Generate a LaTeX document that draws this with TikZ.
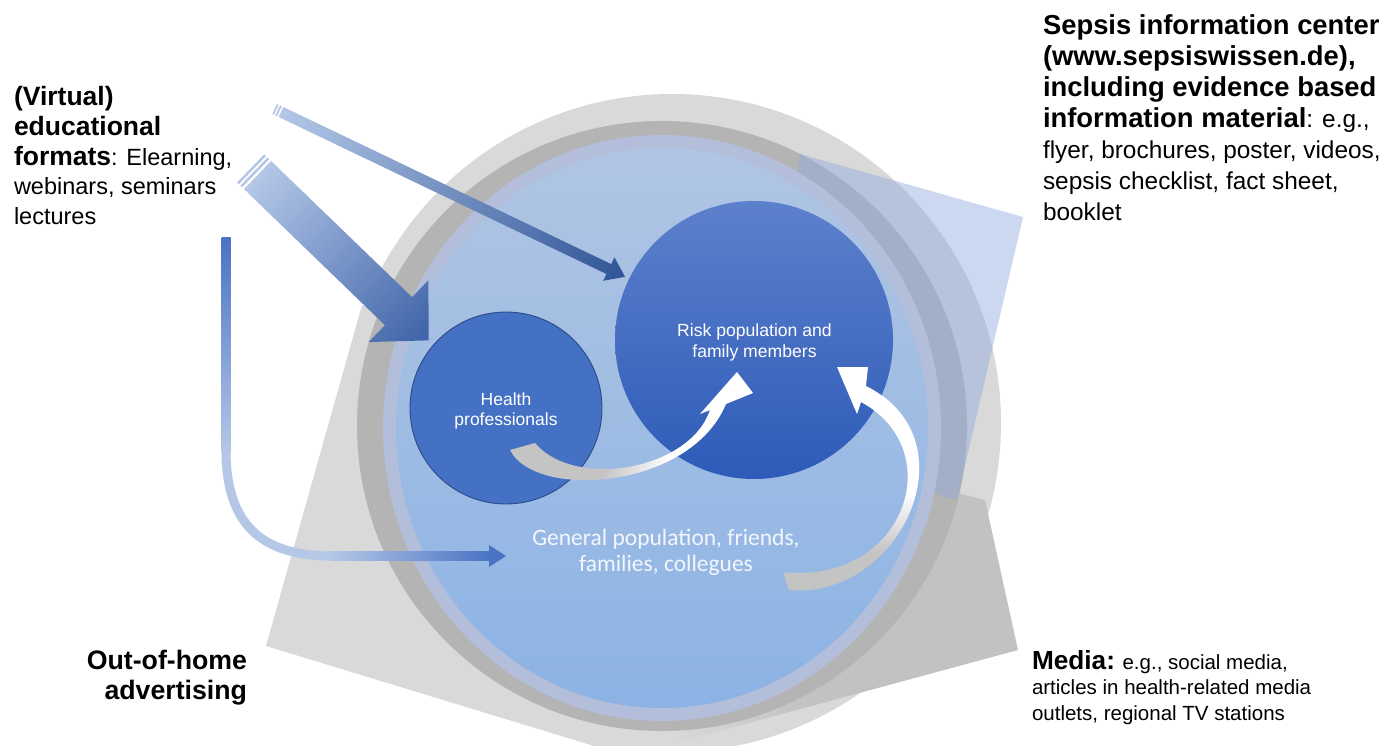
\documentclass[tikz,border=0pt]{standalone}
\usepackage{fontspec}
\setmainfont{Liberation Sans}
\newfontfamily\carlitofont{Carlito}

\definecolor{ringlight}{HTML}{D9D9D9}
\definecolor{ringdark}{HTML}{B4B4B4}
\definecolor{beamgrey}{HTML}{C2C2C2}
\definecolor{beamblue}{HTML}{8FAADC}
\definecolor{haloblue}{HTML}{B3BEDB}
\definecolor{poptop}{HTML}{B0C5E3}
\definecolor{popbottom}{HTML}{8CB3E4}
\definecolor{hpblue}{HTML}{4471C4}
\definecolor{hpline}{HTML}{2C4A86}
\definecolor{risktop}{HTML}{5C80CB}
\definecolor{riskbottom}{HTML}{2E5BB8}
\definecolor{arrowpale}{HTML}{B4C7E7}
\definecolor{arrowdeep}{HTML}{3D62A8}
\definecolor{arrowthin}{HTML}{2F5597}
\definecolor{arrowside}{HTML}{4A73C3}
\definecolor{curvegrey}{HTML}{C4C4C4}
\definecolor{poptext}{HTML}{F3F6FC}

% grey beam: light on the left, darker on the right
\pgfdeclarehorizontalshading{beamshade}{100bp}{color(0bp)=(ringlight); color(52bp)=(ringlight); color(61bp)=(beamgrey); color(100bp)=(beamgrey)}
% curved arrows: grey tail fading into a white head
\pgfdeclarehorizontalshading{curvesideways}{100bp}{color(0bp)=(curvegrey); color(44bp)=(curvegrey); color(58bp)=(white); color(100bp)=(white)}
\pgfdeclareverticalshading{curveupward}{100bp}{color(0bp)=(curvegrey); color(35bp)=(curvegrey); color(48bp)=(white); color(100bp)=(white)}

\begin{document}
\begin{tikzpicture}[x=1pt, y=-1pt,
  txt/.style={inner sep=0pt, outer sep=0pt, text=black},
  intxt/.style={inner sep=0pt, outer sep=0pt, text=white},
  tailstripe/.style={fill=arrowpale}]

\useasboundingbox (0,0) rectangle (1390,746);
\fill[white] (0,0) rectangle (1390,746);

% outer light ring
\fill[ringlight] (672,423) circle [radius=329];
% grey beam from below
\shade[shading=beamshade] (266,646) -- (362,305) -- (700,430) -- (985,500) -- (1018,650) -- (627,756) -- cycle;
% dark ring
\fill[ringdark] (662,426) circle [radius=305];
% translucent blue beam from the upper right
\fill[beamblue, fill opacity=0.45] (800,154) -- (1023,217) -- (957,500) -- (760,440) -- cycle;
% general population disc with its halo
\fill[haloblue] (662,428) ellipse [x radius=279, y radius=293];
\shade[top color=poptop, bottom color=popbottom] (662,428) ellipse [x radius=266, y radius=280];

% target groups
\filldraw[fill=hpblue, draw=hpline, line width=0.9pt] (506,408) circle [radius=96];
\shade[top color=risktop, bottom color=riskbottom] (754,340) circle [radius=139];

\node[intxt, anchor=base] (hp) at (506,405)
  {\parbox[t]{150pt}{\centering\fontsize{17.5}{20}\selectfont Health\\ professionals}};
\node[intxt, anchor=base] (risk) at (754.5,336)
  {\parbox[t]{220pt}{\centering\fontsize{17.6}{21.5}\selectfont Risk population and\\ family members}};
\node[inner sep=0pt, text=poptext, anchor=base] (gen) at (666,545)
  {\parbox[t]{320pt}{\centering\carlitofont\fontsize{23.5}{26.5}\selectfont General population, friends,\\ families, collegues}};

% curved arrow: health professionals -> risk population
\shade[shading=curvesideways] (510,450) .. controls (535,500) and (690,490) .. (726,404)
  -- (753,393) -- (737,372) -- (700,414) -- (710,410)
  .. controls (690,470) and (575,490) .. (535,443) -- cycle;
% curved arrow: general population -> risk population
\shade[shading=curveupward] (789,590) .. controls (900,600) and (975,440) .. (866,386)
  -- (868,367) -- (837,367) -- (857,414) -- (861,402)
  .. controls (950,450) and (905,585) .. (783,572) -- cycle;

% thin striped arrow towards the risk population
\begin{scope}[transform canvas={shift={(281,112)}, rotate=-25.6}]
  \fill[tailstripe] (-7,-5.5) rectangle (-5.2,5.5);
  \fill[tailstripe] (-3.6,-5.5) rectangle (-1.8,5.5);
  \shade[left color=arrowpale, right color=arrowthin]
    (0,-5.5) -- (363.5,-5.5) -- (363.5,-13) -- (381.5,0) -- (363.5,13) -- (363.5,5.5) -- (0,5.5) -- cycle;
\end{scope}

% broad striped arrow towards the health professionals
\begin{scope}[transform canvas={shift={(257.5,175)}, rotate=-44}]
  \fill[tailstripe] (-9.5,-19.5) rectangle (-7,19.5);
  \fill[tailstripe] (-5,-19.5) rectangle (-2.5,19.5);
  \shade[left color=arrowpale, right color=arrowdeep]
    (0,-19.5) -- (196,-19.5) -- (196,-43) -- (238,0) -- (196,43) -- (196,19.5) -- (0,19.5) -- cycle;
\end{scope}

% bent arrow towards the general population
\shade[top color=arrowside, bottom color=arrowpale] (221.5,238) rectangle (230.5,452);
\draw[arrowpale, line width=9pt] (226,450) .. controls (226,525) and (262,556) .. (332,556);
\shade[left color=arrowpale, right color=arrowside] (330,551.5) rectangle (490,560.5);
\fill[arrowside] (489,545) -- (506,556) -- (489,567) -- cycle;

% channel descriptions
\node[txt, anchor=base west] (edu) at (14,106)
  {\parbox[t]{300pt}{\fontsize{23.5}{29.6}\selectfont
   {\fontsize{26.5}{29.6}\selectfont\bfseries (Virtual)}\\
   {\fontsize{26.5}{29.6}\selectfont\bfseries educational}\\
   {\fontsize{26.5}{29.6}\selectfont\bfseries formats}: Elearning,\\
   webinars, seminars\\
   lectures}};

\node[txt, anchor=base west] (info) at (1043,35)
  {\parbox[t]{400pt}{\fontsize{24.4}{31}\selectfont
   {\fontsize{27.4}{31}\selectfont\bfseries Sepsis information center}\\
   {\fontsize{27.4}{31}\selectfont\bfseries (www.sepsiswissen.de),}\\
   {\fontsize{27.4}{31}\selectfont\bfseries including evidence based}\\
   {\fontsize{27.4}{31}\selectfont\bfseries information material}: e.g.,\\
   flyer, brochures, poster, videos,\\
   sepsis checklist, fact sheet,\\
   booklet}};

\node[txt, anchor=base east] (ooh) at (247,669)
  {\parbox[t]{220pt}{\raggedleft\fontsize{26.7}{30}\selectfont\bfseries Out-of-home\\ advertising}};

\node[txt, anchor=base west] (media) at (1032,669)
  {\parbox[t]{350pt}{\fontsize{20.5}{25.5}\selectfont
   {\fontsize{26.2}{25.5}\selectfont\bfseries Media:} e.g., social media,\\
   articles in health-related media\\
   outlets, regional TV stations}};

\end{tikzpicture}
\end{document}
